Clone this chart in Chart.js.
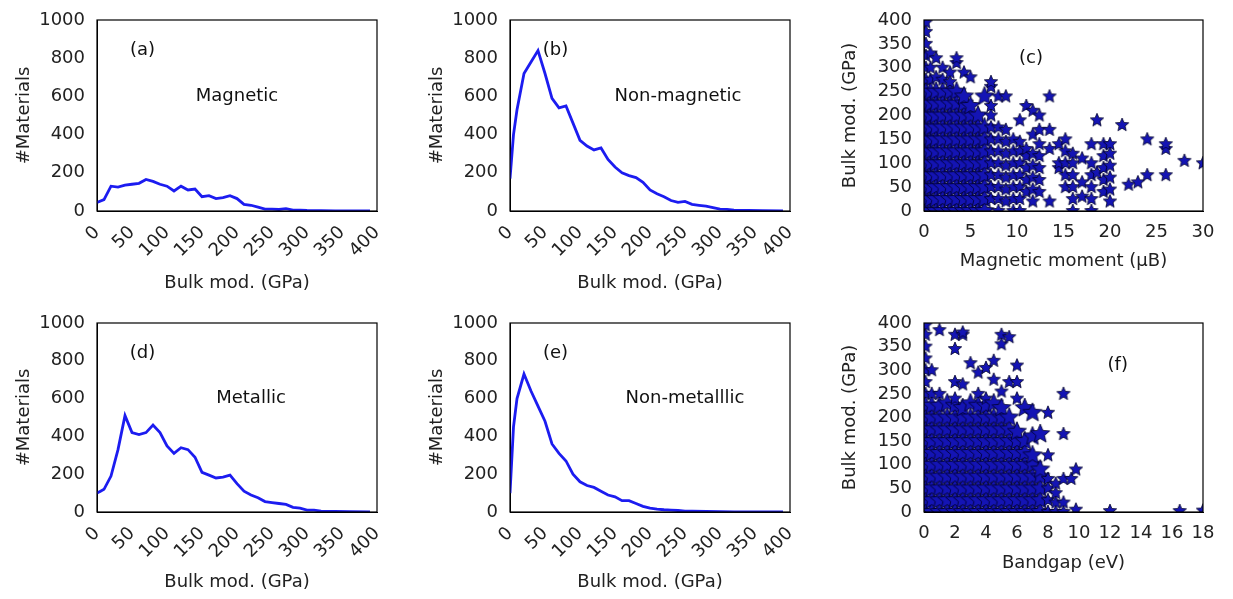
<!DOCTYPE html>
<html><head><meta charset="utf-8">
<script src="https://cdn.jsdelivr.net/npm/chart.js@4.4.1/dist/chart.umd.min.js"></script>
<style>
body{margin:0;background:#fff;width:1233px;height:599px;position:relative;overflow:hidden}
.p{position:absolute}
</style></head><body>
<div class="p" style="left:0;top:0;width:400px;height:300px"><canvas id="ca"></canvas></div>
<div class="p" style="left:413px;top:0;width:400px;height:300px"><canvas id="cb"></canvas></div>
<div class="p" style="left:826px;top:0;width:407px;height:300px"><canvas id="cc"></canvas></div>
<div class="p" style="left:0;top:300px;width:400px;height:299px"><canvas id="cd"></canvas></div>
<div class="p" style="left:413px;top:300px;width:400px;height:299px"><canvas id="ce"></canvas></div>
<div class="p" style="left:826px;top:300px;width:407px;height:299px"><canvas id="cf"></canvas></div>
<script>
// histograms: bulk modulus bins (GPa) and counts
const binsA = [0,10,20,30,40,50,60,70,80,90,100,110,120,130,140,150,160,170,180,190,200,210,220,230,240,250,260,270,280,290,300,320,340,360,380,390];
const magnetic = [45,60,130,125,135,140,145,165,155,140,130,105,130,110,115,75,80,65,70,80,65,35,30,20,10,10,8,12,5,5,3,2,1,1,0,0];
const binsB = [0,5,10,20,30,40,50,60,70,80,90,100,110,120,130,140,150,160,170,180,190,200,210,220,230,240,250,260,270,280,290,300,310,320,340,360,390];
const nonMagnetic = [170,400,530,720,780,840,720,590,540,550,460,370,340,320,330,270,230,200,185,175,150,110,90,75,55,45,50,35,30,25,18,10,8,5,3,2,0];
const metallic = [100,110,120,190,330,510,420,410,420,460,420,350,310,340,330,290,210,195,180,185,195,150,110,90,75,55,50,45,40,25,20,10,10,5,3,2,0];
const binsE = [0,5,10,20,30,40,50,60,70,80,90,100,110,120,130,140,150,160,170,180,190,200,210,220,230,240,250,260,280,300,320,350,390];
const nonMetallic = [100,450,600,730,640,560,480,360,310,270,200,160,140,130,110,90,80,60,60,45,30,20,15,12,10,8,5,5,3,2,1,0,0];
const binsD = binsB;

// scatter (c): magnetic moment columns -> bulk moduli
const momentCols = [
 [0.2,[0,25,50,75,100,125,150,175,200,225,250,275,300,325,350,375,395]],
 [0.7,[0,25,50,75,100,125,150,175,200,225,250,275,300,330]],
 [1.3,[0,25,50,75,100,125,150,175,200,225,250,280,320]],
 [2.0,[0,25,50,75,100,125,150,175,200,225,250,275,300]],
 [2.8,[0,25,50,75,100,125,150,175,200,225,250,270,290]],
 [3.5,[0,25,50,75,100,125,150,175,200,225,250,310,320]],
 [4.3,[0,25,50,75,100,125,150,175,200,225,240,290]],
 [5.0,[0,25,50,75,100,125,150,175,200,220,280]],
 [5.8,[0,25,50,75,100,125,150,175,200]],
 [6.5,[0,25,50,75,100,125,150,175,240]],
 [7.2,[25,50,75,100,125,150,175,200,220,260,270]],
 [8.0,[0,25,50,75,100,125,150,175,240]],
 [8.8,[20,45,70,95,120,145,170,240]],
 [9.6,[0,25,50,75,100,125,150]],
 [10.3,[0,25,50,75,100,125,145,190]],
 [11.0,[40,65,90,115,130,220]],
 [11.7,[20,45,70,95,120,160,210]],
 [12.4,[40,65,90,115,140,170,200]],
 [13.5,[20,130,170,240]],
 [14.5,[90,100,140]],
 [15.2,[50,75,100,125,150]],
 [16.0,[0,25,50,75,100,120]],
 [17.0,[30,60,110]],
 [18.0,[0,25,50,75,100,140]],
 [18.6,[80,190]],
 [19.3,[40,65,90,115,140]],
 [20.0,[20,45,70,95,120,140]],
 [21.3,[180]],[22,[55]],[23,[60]],[24,[75,150]],[26,[75,130,140]],[28,[105]],[30,[100]]
];
// scatter (f): bandgap columns -> bulk moduli
const gapCols = [
 [0.1,[0,25,50,75,100,125,150,175,200,225,250,275,300,325,350,375,395]],
 [0.5,[0,25,50,75,100,125,150,175,200,225,250,300]],
 [1.0,[0,25,50,75,100,125,150,175,200,225,250,385]],
 [1.5,[0,25,50,75,100,125,150,175,200,230]],
 [2.0,[0,25,50,75,100,125,150,175,200,225,240,275,345,375]],
 [2.5,[0,25,50,75,100,125,150,175,200,220,270,375,380]],
 [3.0,[0,25,50,75,100,125,150,175,200,230,315]],
 [3.5,[0,25,50,75,100,125,150,175,200,225,250,295]],
 [4.0,[0,25,50,75,100,125,150,175,200,225,240,305]],
 [4.5,[0,25,50,75,100,125,150,175,200,230,280,320]],
 [5.0,[0,25,50,75,100,125,150,175,200,220,255,355,375]],
 [5.5,[0,25,50,75,100,125,150,175,200,275,370]],
 [6.0,[0,25,50,75,100,125,150,170,240,275,310]],
 [6.5,[0,25,50,75,100,125,150,220]],
 [7.0,[0,25,50,75,100,120,160,210]],
 [7.5,[0,25,50,75,90,165]],
 [8.0,[0,25,50,70,120,210]],
 [8.5,[0,20,40,60]],
 [9.0,[0,20,70,165,250]],
 [9.5,[70]],[9.8,[5,90]],[12,[2]],[16.5,[2]],[18,[3]]
];

const toXY = (xs, ys) => xs.map((x, i) => ({x, y: ys[i]}));
const colsToXY = cols => cols.flatMap(([x, ys]) => ys.map(y => ({x, y})));

// filled five-point star marker
function starImg(r){
  const c = document.createElement('canvas'); const s = r*2+2;
  c.width = s; c.height = s; const g = c.getContext('2d');
  g.beginPath();
  for (let i=0;i<10;i++){
    const rr = i%2 ? r*0.45 : r, a = -Math.PI/2 + i*Math.PI/5;
    g.lineTo(s/2 + rr*Math.cos(a), s/2 + rr*Math.sin(a));
  }
  g.closePath(); g.fillStyle = '#1414b4'; g.fill();
  g.strokeStyle = '#000028'; g.lineWidth = 0.8; g.stroke();
  return c;
}
const bigStar = starImg(10);
const star = starImg(7);

const FONT = 'DejaVu Sans';
Chart.defaults.font.family = FONT;
Chart.defaults.color = '#222';

const frame = {
  id: 'frame',
  afterDatasetsDraw(chart, args, opts){
    const {ctx, chartArea: a, scales} = chart;
    ctx.save();
    ctx.strokeStyle = '#000'; ctx.lineWidth = 1.2;
    ctx.strokeRect(a.left, a.top, a.right-a.left, a.bottom-a.top);
    ctx.fillStyle = '#111'; ctx.font = '18px ' + FONT; ctx.textAlign = 'center'; ctx.textBaseline = 'middle';
    (opts.notes || []).forEach(n => ctx.fillText(n.t, scales.x.getPixelForValue(n.x), scales.y.getPixelForValue(n.y)));
    ctx.restore();
  }
};

function make(id, cfg){
  const {data, yMax, yStep, xMax, xStep, xRot, yTitle, xTitle, yW, top, xH, right, notes, scatter, xTitlePad, dense} = cfg;
  new Chart(document.getElementById(id), {
    type: 'scatter',
    data: {datasets: [scatter ? {
      data, pointStyle: data.map(p => dense(p) ? bigStar : star), pointRadius: 8, pointHoverRadius: 8
    } : {
      data, showLine: true, borderColor: '#1c1cf0', borderWidth: 2.8, pointRadius: 0, tension: 0
    }]},
    options: {
      responsive: true, maintainAspectRatio: false, animation: false,
      layout: {padding: {top, right, left: 0, bottom: 0}},
      plugins: {legend: {display: false}, tooltip: {enabled: false}, frame: {notes}},
      scales: {
        x: {min: 0, max: xMax, grid: {display: false}, border: {color: '#000'},
            ticks: {stepSize: xStep, autoSkip: false, maxRotation: xRot, minRotation: xRot, font: {size: 18}, color: '#222', callback: v => String(v)},
            title: {display: true, text: xTitle, font: {size: 18}, color: '#222', padding: {top: xTitlePad, bottom: xTitlePad}},
            afterFit: s => { s.height = xH; }},
        y: {min: 0, max: yMax, grid: {display: false}, border: {color: '#000'},
            ticks: {stepSize: yStep, autoSkip: false, font: {size: 18}, color: '#222', padding: 4, callback: v => String(v)},
            title: {display: true, text: yTitle, font: {size: 18}, color: '#222', padding: {top: 14, bottom: 14}},
            afterFit: s => { s.width = yW; }}
      }
    },
    plugins: [frame]
  });
}

const hist = {yMax: 1000, yStep: 200, xMax: 400, xStep: 50, xRot: 45, yTitle: '#Materials', xTitle: 'Bulk mod. (GPa)', yW: 97, right: 23, xTitlePad: 6};
make('ca', {...hist, data: toXY(binsA, magnetic), top: 20, xH: 89, notes: [{x:65,y:840,t:'(a)'},{x:200,y:600,t:'Magnetic'}]});
make('cb', {...hist, data: toXY(binsB, nonMagnetic), top: 20, xH: 89, notes: [{x:65,y:840,t:'(b)'},{x:240,y:600,t:'Non-magnetic'}]});
make('cd', {...hist, data: toXY(binsD, metallic), top: 23, xH: 87, notes: [{x:65,y:840,t:'(d)'},{x:220,y:600,t:'Metallic'}]});
make('ce', {...hist, data: toXY(binsE, nonMetallic), top: 23, xH: 87, notes: [{x:65,y:840,t:'(e)'},{x:250,y:600,t:'Non-metalllic'}]});
const sc = {scatter: true, yMax: 400, yStep: 50, xRot: 0, yTitle: 'Bulk mod. (GPa)', yW: 98, right: 30, xTitlePad: 28};
make('cc', {...sc, data: colsToXY(momentCols), xMax: 30, xStep: 5, xTitle: 'Magnetic moment (μB)', top: 20, xH: 89,
  dense: p => p.x < 6.6 && p.y <= 250, notes: [{x:11.5,y:320,t:'(c)'}]});
make('cf', {...sc, data: colsToXY(gapCols), xMax: 18, xStep: 2, xTitle: 'Bandgap (eV)', top: 23, xH: 87, xTitlePad: 25,
  dense: p => p.x < 8 && p.y <= 230, notes: [{x:12.5,y:310,t:'(f)'}]});
</script>
</body></html>
